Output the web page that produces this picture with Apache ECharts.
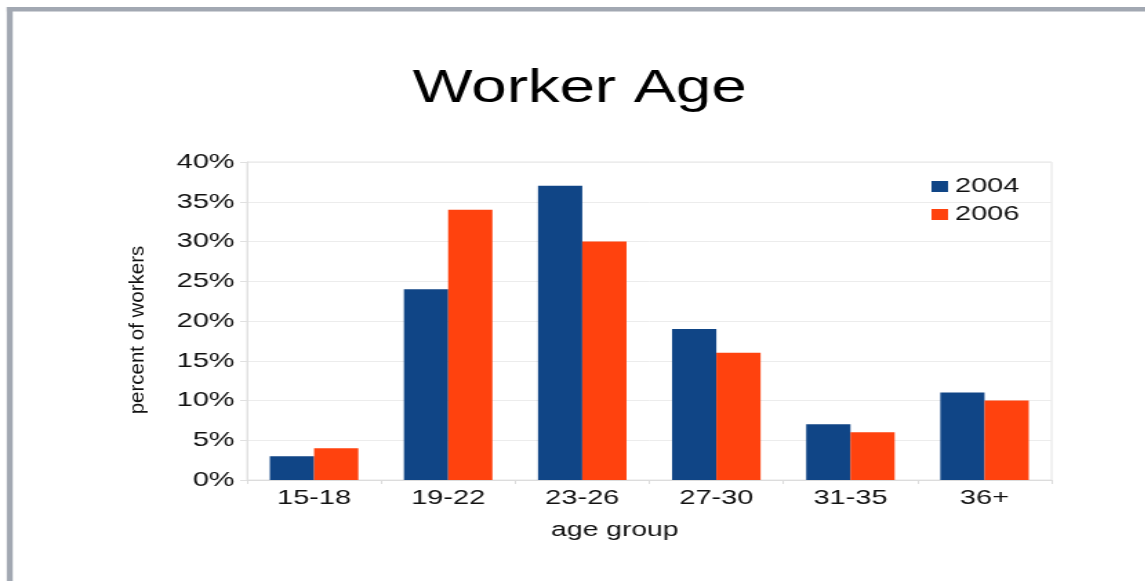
<!DOCTYPE html>
<html>
<head>
<meta charset="utf-8">
<title>Worker Age</title>
<script src="https://cdn.jsdelivr.net/npm/echarts@6/dist/echarts.min.js"></script>
<style>
    html, body { margin: 0; padding: 0; background: #fff; overflow: hidden; }
    /* the original picture is stretched sideways, so draw narrow and stretch */
    #main { width: 830px; height: 581px; transform: scaleX(1.38); transform-origin: 0 0; }
</style>
</head>
<body>
<div id="main"></div>
<script>
    var STRETCH = 1.38;
    var ageGroups = ['15-18', '19-22', '23-26', '27-30', '31-35', '36+'];
    var workers2004 = [3, 24, 37, 19, 7, 11];
    var workers2006 = [4, 34, 30, 16, 6, 10];
    var seriesNames = ['2004', '2006'];
    var FONT = '"Liberation Sans", Arial, sans-serif';

    var chart = echarts.init(document.getElementById('main'), null, {renderer: 'canvas'});
    chart.setOption({
        animation: false,
        backgroundColor: '#fff',
        title: {
            text: 'Worker Age',
            left: 415,
            textAlign: 'center',
            top: 61,
            textStyle: {fontFamily: FONT, fontSize: 46, fontWeight: 'normal', color: '#000'}
        },
        legend: {
            orient: 'vertical',
            left: 670,
            top: 171,
            icon: 'rect',
            itemWidth: 12,
            itemHeight: 11,
            itemGap: 7,
            data: seriesNames,
            textStyle: {fontFamily: FONT, fontSize: 21, color: '#111'}
        },
        grid: {
            left: 179,
            right: 68,
            top: 162,
            bottom: 101,
            show: true,
            borderColor: '#e4e4e4',
            borderWidth: 1
        },
        xAxis: {
            type: 'category',
            data: ageGroups,
            name: 'age group',
            nameLocation: 'middle',
            nameGap: 40,
            nameTextStyle: {fontFamily: FONT, fontSize: 20.5, color: '#111', padding: [0, 50, 0, 0]},
            axisLine: {lineStyle: {color: '#dcdcdc'}},
            axisTick: {show: true, length: 4, lineStyle: {color: '#dcdcdc'}},
            axisLabel: {fontFamily: FONT, fontSize: 21, color: '#111', margin: 8}
        },
        yAxis: {
            type: 'value',
            min: 0,
            max: 40,
            interval: 5,
            axisLine: {show: true, lineStyle: {color: '#e0e0e0'}},
            axisTick: {show: true, length: 5, lineStyle: {color: '#e0e0e0'}},
            axisLabel: {fontFamily: FONT, fontSize: 21, color: '#111', margin: 9, formatter: '{value}%'},
            splitLine: {lineStyle: {color: '#ececec'}}
        },
        series: [
            {
                name: seriesNames[0],
                type: 'bar',
                data: workers2004,
                barGap: '0%',
                barCategoryGap: '34%',
                itemStyle: {color: '#104586'}
            },
            {
                name: seriesNames[1],
                type: 'bar',
                data: workers2006,
                barGap: '0%',
                barCategoryGap: '34%',
                itemStyle: {color: '#ff420e'}
            }
        ],
        graphic: [
            //页面边框
            {type: 'rect', left: 4.9, top: 7, shape: {width: 4.3, height: 600}, style: {fill: '#a2a8b2'}, silent: true},
            {type: 'rect', left: 4.9, top: 7, shape: {width: 900, height: 4.5}, style: {fill: '#a2a8b2'}, silent: true},
            //竖排的轴名，压回横向拉伸
            {
                type: 'text',
                x: 100,
                y: 330,
                rotation: Math.PI / 2,
                scaleY: 1 / STRETCH,
                silent: true,
                style: {
                    text: 'percent of workers',
                    font: '20.5px ' + FONT,
                    fill: '#111',
                    align: 'center',
                    verticalAlign: 'middle'
                }
            }
        ]
    });
</script>
</body>
</html>
